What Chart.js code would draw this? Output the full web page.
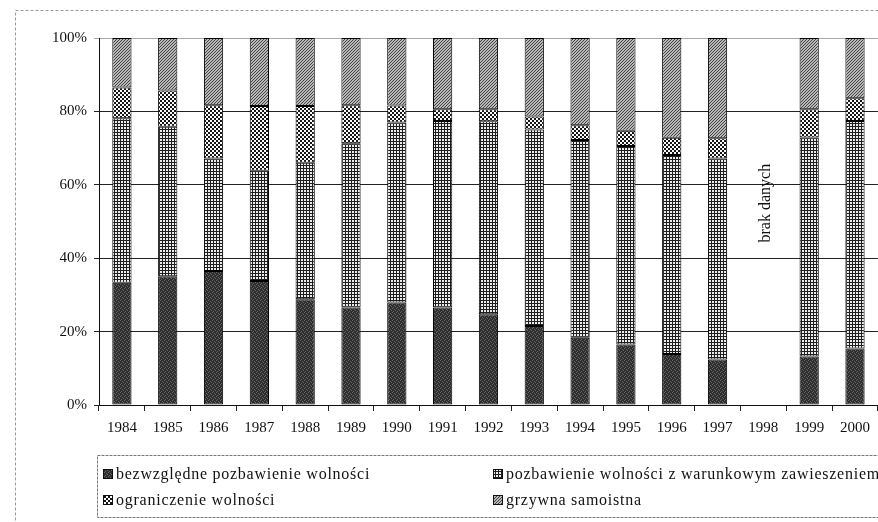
<!DOCTYPE html>
<html>
<head>
<meta charset="utf-8">
<script src="https://cdn.jsdelivr.net/npm/chart.js@4/dist/chart.umd.min.js"></script>
<style>
  html, body { margin: 0; padding: 0; background: #fff; }
  #wrap { width: 878px; height: 522px; }
</style>
</head>
<body>
<div id="wrap"><canvas id="c" width="878" height="522"></canvas></div>
<script>
// Struktura orzeczonych kar (udział procentowy), 1984–2000
const years = ['1984','1985','1986','1987','1988','1989','1990','1991','1992','1993','1994','1995','1996','1997','1998','1999','2000'];
const bezwzgledne  = [33.3, 35.1, 36.5, 33.8, 28.8, 26.6, 27.9, 26.6, 24.7, 21.5, 18.3, 16.5, 13.9, 12.4, null, 13.2, 15.4];
const warunkowe    = [44.8, 40.7, 30.7, 30.0, 37.2, 44.7, 49.1, 50.8, 52.6, 53.6, 53.9, 54.1, 54.2, 54.8, null, 59.7, 62.0];
const ograniczenie = [ 8.4,  9.9, 14.5, 17.7, 15.5, 10.4,  4.6,  3.2,  3.3,  3.5,  4.0,  4.1,  4.7,  5.5, null,  7.7,  6.2];
const grzywna      = [13.5, 14.3, 18.3, 18.5, 18.5, 18.3, 18.4, 19.4, 19.4, 21.4, 23.8, 25.3, 27.2, 27.3, null, 19.4, 16.4];
const seriesNames = [
  'bezwzględne pozbawienie wolności',
  'pozbawienie wolności z warunkowym zawieszeniem',
  'ograniczenie wolności',
  'grzywna samoistna'
];
const yTicks = [0, 20, 40, 60, 80, 100];
const noDataYear = '1998';
const noDataText = 'brak danych';

const SERIF = "'Liberation Serif', 'Times New Roman', serif";
const INK = '#111';

// Monochrome fill textures for the four series
function makePattern(kind) {
  const t = document.createElement('canvas');
  const g = t.getContext('2d');
  if (kind === 'dark') {
    t.width = 4; t.height = 4;
    g.fillStyle = '#2e2e2e'; g.fillRect(0, 0, 4, 4);
    g.fillStyle = '#666';
    [[0,0],[2,1],[1,3],[3,2]].forEach(([x, y]) => g.fillRect(x, y, 1, 1));
  } else if (kind === 'grid') {
    t.width = 3; t.height = 3;
    g.fillStyle = '#ececec'; g.fillRect(0, 0, 3, 3);
    g.fillStyle = '#1e1e1e';
    g.fillRect(0, 0, 3, 1); g.fillRect(0, 0, 1, 3);
  } else if (kind === 'checker') {
    t.width = 4; t.height = 4;
    g.fillStyle = '#fafafa'; g.fillRect(0, 0, 4, 4);
    g.fillStyle = '#161616';
    g.fillRect(0, 0, 2, 2); g.fillRect(2, 2, 2, 2);
  } else {
    t.width = 3; t.height = 3;
    g.fillStyle = '#b8b8b8'; g.fillRect(0, 0, 3, 3);
    g.fillStyle = '#444';
    [[2,0],[1,1],[0,2]].forEach(([x, y]) => g.fillRect(x, y, 1, 1));
  }
  return g.createPattern(t, 'repeat');
}
const fills = [makePattern('dark'), makePattern('grid'), makePattern('checker'), makePattern('hatch')];
const seriesData = [bezwzgledne, warunkowe, ograniczenie, grzywna];

const datasets = seriesData.map((d, i) => ({
  label: seriesNames[i],
  data: d,
  backgroundColor: fills[i],
  borderColor: '#000',
  borderWidth: 1,
  borderSkipped: false,
  categoryPercentage: 1,
  barPercentage: 0.42
}));

// Outer dashed frame of the figure
const framePlugin = {
  id: 'frame',
  beforeDraw(chart) {
    const ctx = chart.ctx;
    ctx.save();
    ctx.fillStyle = '#fff';
    ctx.fillRect(0, 0, chart.width, chart.height);
    ctx.strokeStyle = '#9a9a9a';
    ctx.lineWidth = 1;
    ctx.setLineDash([3, 2]);
    ctx.strokeRect(15.5, 10.5, chart.width + 10, chart.height + 10);
    ctx.restore();
  }
};

// Vertical note over the missing year
const noDataPlugin = {
  id: 'noData',
  afterDatasetsDraw(chart) {
    const x = chart.scales.x.getPixelForValue(years.indexOf(noDataYear));
    const y = chart.scales.y.getPixelForValue(55);
    const ctx = chart.ctx;
    ctx.save();
    ctx.translate(x + 2, y);
    ctx.rotate(-Math.PI / 2);
    ctx.font = '16px ' + SERIF;
    ctx.fillStyle = INK;
    ctx.textAlign = 'center';
    ctx.textBaseline = 'middle';
    ctx.fillText(noDataText, 0, 0);
    ctx.restore();
  }
};

// Two-column boxed legend below the axis
const boxLegendPlugin = {
  id: 'boxLegend',
  afterDraw(chart) {
    const ctx = chart.ctx;
    ctx.save();
    ctx.strokeStyle = '#777';
    ctx.lineWidth = 1;
    ctx.setLineDash([3, 1]);
    ctx.strokeRect(97.5, 455.5, 800, 62);
    ctx.setLineDash([]);
    const cols = [103, 493];
    const rows = [474, 500];
    ctx.font = '16px ' + SERIF;
    ctx.letterSpacing = '0.75px';
    ctx.textBaseline = 'middle';
    chart.data.datasets.forEach((ds, i) => {
      const x = cols[i % 2];
      const y = rows[Math.floor(i / 2)];
      ctx.fillStyle = ds.backgroundColor;
      ctx.fillRect(x, y - 5, 10, 10);
      ctx.strokeStyle = '#111';
      ctx.strokeRect(x + 0.5, y - 4.5, 9, 9);
      ctx.fillStyle = INK;
      ctx.fillText(ds.label, x + 13, y + 1);
    });
    ctx.restore();
  }
};

new Chart(document.getElementById('c'), {
  type: 'bar',
  data: { labels: years, datasets },
  plugins: [framePlugin, noDataPlugin, boxLegendPlugin],
  options: {
    responsive: false,
    animation: false,
    devicePixelRatio: 1,
    layout: { padding: { top: 38, right: 0, bottom: 77, left: 0 } },
    plugins: {
      legend: { display: false },
      tooltip: { enabled: false }
    },
    scales: {
      x: {
        stacked: true,
        afterFit(scale) { scale.height = 40; },
        grid: {
          offset: true,
          drawOnChartArea: false,
          drawTicks: true,
          tickLength: 6,
          color: '#222'
        },
        border: { display: true, color: '#111', width: 1 },
        ticks: {
          color: INK,
          font: { family: SERIF, size: 15 },
          padding: 8,
          maxRotation: 0,
          autoSkip: false
        }
      },
      y: {
        stacked: true,
        min: 0,
        max: 100,
        afterFit(scale) { scale.width = 99; },
        afterBuildTicks(scale) { scale.ticks = yTicks.map(v => ({ value: v })); },
        grid: {
          drawTicks: true,
          tickLength: 5,
          color: ctx => (ctx.tick && ctx.tick.value === 100) ? '#a8a8a8' : '#222',
          lineWidth: 1
        },
        border: { display: true, color: '#111', width: 1 },
        ticks: {
          color: INK,
          font: { family: SERIF, size: 15 },
          padding: 7,
          callback: v => v + '%'
        }
      }
    }
  }
});
</script>
</body>
</html>
